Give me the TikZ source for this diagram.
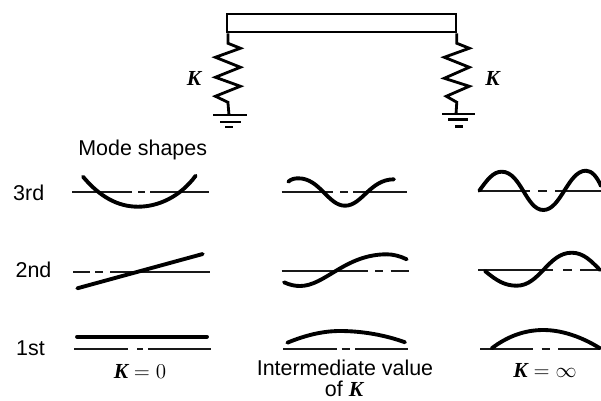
\documentclass[tikz,border=0pt]{standalone}
\usepackage{amsmath}
\usepackage{fontspec}
\setmainfont{Liberation Sans}
\newfontfamily\kfont{Liberation Serif}[BoldItalicFont={* Bold Italic}]
\newcommand{\kk}{\text{\kfont\bfseries\itshape K}}
\usepackage{tikz}
\tikzset{
  axisline/.style={line width=1pt,black!90},
  modecurve/.style={line width=2.2pt,line cap=round},
  springline/.style={line width=1.6pt,line join=miter},
  groundline/.style={line width=1.2pt},
  lbl/.style={inner sep=0pt,font=\fontsize{12.2}{14}\selectfont}
}
\begin{document}
\begin{tikzpicture}[x=0.02cm,y=-0.02cm]
\useasboundingbox (0,0) rectangle (601,400);
\node[draw,line width=1.1pt,minimum width=4.57cm,minimum height=0.36cm,inner sep=0pt] (beam) at (341.6,23.3) {};
\coordinate (gndL) at (229,115);
\coordinate (gndR) at (456,114);
\draw[springline] (beam.south west) ++(1.5,0) -- ++(0,10) -- ++(12.5,5) -- ++(-25,9) -- ++(25,10) -- ++(-25,10) -- ++(25,9) -- ++(-25,10) -- ++(12.5,6) -- (gndL);
\draw[springline] (beam.south east) -- ++(0,10) -- ++(12.5,5) -- ++(-25,9) -- ++(25,10) -- ++(-25,11) -- ++(25,8) -- ++(-23,10) -- ++(10.5,6) -- (gndR);
\draw[groundline] (213,115) -- (247,115) (220,121.7) -- (241,121.7) (225,127) -- (233,127);
\draw[groundline] (442,114) -- (475,114) (448,119.5) -- (468,119.5) (455,126.5) -- (463,126.5);
\node[lbl] (kleft) at (194,78) {$\kk$};
\node[lbl] (kright) at (492.5,78) {$\kk$};
\node[lbl] (modes) at (142.7,150) {Mode shapes};
\node[lbl] (third) at (28.7,193) {3rd};
\node[lbl] (second) at (33.5,269.5) {2nd};
\node[lbl] (first) at (30.5,348) {1st};
\node[lbl] (kzero) at (140,371.5) {$\kk=0$};
\node[lbl] (kmid) at (345,368) {Intermediate value};
\node[lbl] (kmidb) at (344,389) {of $\kk$};
\node[lbl] (kinf) at (545,370) {$\kk=\infty$};
\foreach \xa/\xb/\ya in {72/131.5/192,138/145/192,150/209/192,
    73/90/271.7,95/103/271.7,110/210/271.7,
    74/128/349.3,137/143/349.3,148/211/349.3,
    281.7/333/191.7,340/348/191.7,353/407.3/191.7,
    281.7/368.3/271,375/383/271,390.7/409/271,
    283.3/337/348.7,341.7/350/348.7,355/408.3/348.7,
    479.3/530/191,538/546.7/191,555/601/191,
    478.3/553/270.3,563/571.7/270.3,580/601/270.3,
    480/533/348.7,541.7/550/348.7,558/600/348.7}
  \draw[axisline] (\xa,\ya) -- (\xb,\ya);
\draw[modecurve] (83,176.7) .. controls (100,197) and (118,206.7) .. (138,206.7) .. controls (158,206.7) and (180,197) .. (195.7,175.7);
\draw[modecurve] (77.3,288.3) -- (202.7,254);
\draw[modecurve] (77,336.7) -- (207,336.7);
\draw[modecurve] (288.3,181.7) .. controls (291,179) and (295,178.3) .. (298.3,178.3) .. controls (320,178.3) and (328,205.7) .. (345,205.7) .. controls (362,205.7) and (370,179.3) .. (394,179.3);
\draw[modecurve] (284,282.3) .. controls (290,285) and (295,286) .. (300,286) .. controls (325,286) and (345,254.3) .. (386.7,254.3) .. controls (393,254.3) and (400,256) .. (406.7,259.3);
\draw[modecurve] (287.3,342.7) .. controls (305,335.5) and (322,331) .. (340,331) .. controls (362,331) and (385,335) .. (405,342.3);
\draw[modecurve] (479.3,190.7) .. controls (487,180) and (493,171.7) .. (501.7,171.7) .. controls (521,171.7) and (526,210) .. (543.3,210) .. controls (561,210) and (568,170.7) .. (586,170.7) .. controls (592,170.7) and (597,177) .. (601,186);
\draw[modecurve] (485,271) .. controls (497,281) and (505,285.7) .. (516.7,285.7) .. controls (540,285.7) and (548,252.7) .. (571.7,252.7) .. controls (584,252.7) and (592,262) .. (600,270);
\draw[modecurve] (491.7,348.3) .. controls (508,336) and (525,330) .. (543.3,330) .. controls (562,330) and (582,337) .. (600,348.3);
\end{tikzpicture}
\end{document}
